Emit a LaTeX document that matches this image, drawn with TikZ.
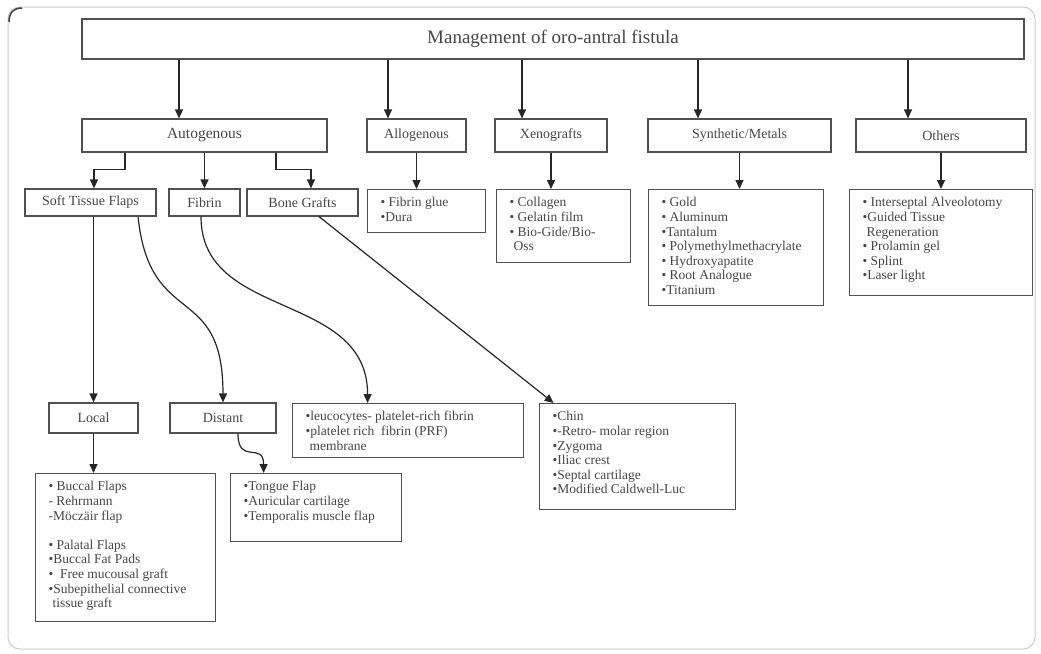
\documentclass[tikz,border=0pt]{standalone}
\usepackage{fontspec}
\setmainfont{Liberation Serif}
\usepackage{tikz}
\usetikzlibrary{arrows.meta,positioning}
\definecolor{oaframe}{RGB}{205,205,205}
\definecolor{oabox}{RGB}{80,80,80}
\definecolor{oatext}{RGB}{70,70,70}
\tikzstyle{topbox} = [rectangle, draw=oabox, line width=1.2pt, text=oatext, font=\fontsize{19}{22}\selectfont]
\tikzstyle{groupbox} = [rectangle, draw=oabox, line width=1.2pt, text=oatext, inner sep=0pt, font=\fontsize{14}{16}\selectfont]
\tikzstyle{listbox} = [rectangle, draw=oabox, line width=1.2pt, text=oatext, inner xsep=13pt, inner ysep=0pt, anchor=north west]
\tikzstyle{arrow} = [line width=1.2pt, ->, >={Triangle[width=8pt,length=9pt]}, color=black!85]
\newcommand{\itemlist}[3]{\parbox[c][#2pt][t]{#1pt}{\raggedright\fontsize{13.5}{14.6}\selectfont\vspace*{7pt}\strut #3}}

\begin{document}
\begin{tikzpicture}[x=1pt, y=-1pt]
\useasboundingbox (0,0) rectangle (1041,653);
% Outer frame
\draw[oaframe, line width=1pt, rounded corners=12pt] (8,7) rectangle (1035,649);
\draw[black!75, line width=1.5pt] (9,22) .. controls (9,13) and (13,8) .. (22,8);

% Title
\node (mgmt) [topbox, minimum width=942pt, minimum height=40pt] at (553,39) {Management of oro-antral fistula};

% Main groups
\node (auto) [groupbox, minimum width=245pt, minimum height=33pt, font=\fontsize{15.5}{18}\selectfont] at (204.5,135.5) {Autogenous};
\node (allo) [groupbox, minimum width=99pt, minimum height=33pt] at (416.5,135.5) {Allogenous};
\node (xeno) [groupbox, minimum width=112pt, minimum height=33pt] at (551,135.5) {Xenografts};
\node (syn) [groupbox, minimum width=183pt, minimum height=33pt] at (739.5,135.5) {Synthetic/Metals};
\node (oth) [groupbox, minimum width=170pt, minimum height=33pt] at (941,135.5) {Others};

\draw[arrow] ([xshift=-25.5pt]auto.north |- mgmt.south) -- ([xshift=-25.5pt]auto.north);
\draw[arrow] ([xshift=-28.5pt]allo.north |- mgmt.south) -- ([xshift=-28.5pt]allo.north);
\draw[arrow] ([xshift=-29pt]xeno.north |- mgmt.south) -- ([xshift=-29pt]xeno.north);
\draw[arrow] ([xshift=-41.5pt]syn.north |- mgmt.south) -- ([xshift=-41.5pt]syn.north);
\draw[arrow] ([xshift=-33pt]oth.north |- mgmt.south) -- ([xshift=-33pt]oth.north);

% Lists of the other groups
\node (allolist) [listbox] at (367,189) {\itemlist{92}{43}{• Fibrin glue\\•Dura}};
\node (xenolist) [listbox] at (496,189) {\itemlist{108}{73}{• Collagen\\• Gelatin film\\• Bio-Gide/Bio-\\\hspace*{4pt}Oss}};
\node (synlist) [listbox] at (648,189) {\itemlist{149}{116}{• Gold\\• Aluminum\\•Tantalum\\• Polymethylmethacrylate\\• Hydroxyapatite\\• Root Analogue\\•Titanium}};
\node (othlist) [listbox] at (849,189) {\itemlist{157}{106}{• Interseptal Alveolotomy\\•Guided Tissue\\\hspace*{4pt}Regeneration\\• Prolamin gel\\• Splint\\•Laser light}};

\draw[arrow] (allo.south) -- (allo.south |- allolist.north);
\draw[arrow] (xeno.south) -- (xeno.south |- xenolist.north);
\draw[arrow] (syn.south) -- (syn.south |- synlist.north);
\draw[arrow] (oth.south) -- (oth.south |- othlist.north);

% Autogenous branches
\node (soft) [groupbox, minimum width=131pt, minimum height=27pt] at (90.5,202.5) {Soft Tissue Flaps};
\node (fibrin) [groupbox, minimum width=71pt, minimum height=27pt] at (204.5,202.5) {Fibrin};
\node (bone) [groupbox, minimum width=111pt, minimum height=27pt] at (302.5,202.5) {Bone Grafts};

\draw[arrow] ([xshift=-79.5pt]auto.south) -- ++(0,17) -| ([xshift=3.5pt]soft.north);
\draw[arrow] (auto.south) -- (fibrin.north);
\draw[arrow] ([xshift=71.5pt]auto.south) -- ++(0,17) -| ([xshift=8.5pt]bone.north);

% Lower level
\node (local) [groupbox, minimum width=89pt, minimum height=30pt] at (93.5,418) {Local};
\node (distant) [groupbox, minimum width=106pt, minimum height=30pt] at (223,418) {Distant};
\node (prflist) [listbox] at (292,403) {\itemlist{205}{54}{•leucocytes- platelet-rich fibrin\\•platelet rich\ \ fibrin (PRF)\\\hspace*{4pt}membrane}};
\node (bonelist) [listbox] at (539,403) {\itemlist{170}{106}{•Chin\\•-Retro- molar region\\•Zygoma\\•Iliac crest\\•Septal cartilage\\•Modified Caldwell-Luc}};
\node (loclist) [listbox] at (35,473) {\itemlist{154}{148}{• Buccal Flaps\\- Rehrmann\\-Möczäir flap\\[14.6pt]• Palatal Flaps\\•Buccal Fat Pads\\•\ \ Free mucousal graft\\•Subepithelial connective\\\hspace*{4pt}tissue graft}};
\node (distlist) [listbox] at (230,473) {\itemlist{145}{68}{•Tongue Flap\\•Auricular cartilage\\•Temporalis muscle flap}};

\draw[arrow] (local.north |- soft.south) -- (local.north);
\draw[arrow] ([xshift=47.5pt]soft.south) .. controls +(12,114) and +(0,-122) .. (distant.north);
\draw[arrow] ([xshift=-3.5pt]fibrin.south) .. controls +(0,104) and +(0,-112) .. ([xshift=-40.5pt]prflist.north);
\draw[arrow] ([xshift=16.5pt]bone.south) -- ([xshift=-84pt]bonelist.north);
\draw[arrow] (local.south) -- (local.south |- loclist.north);
\draw[arrow] ([xshift=15pt]distant.south) .. controls +(0,32) and +(0,-32) .. ([xshift=-52.5pt]distlist.north);
\end{tikzpicture}
\end{document}
